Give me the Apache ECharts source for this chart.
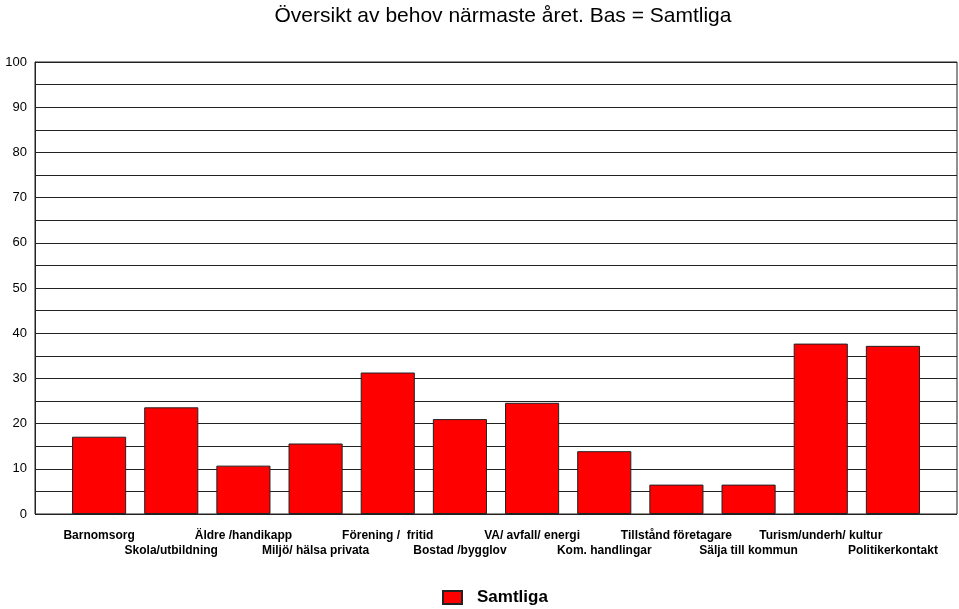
<!DOCTYPE html>
<html>
<head>
<meta charset="utf-8">
<script src="https://cdn.jsdelivr.net/npm/echarts@6/dist/echarts.min.js"></script>
<style>
  html, body { margin: 0; padding: 0; background: #fff; }
  #chart { width: 959px; height: 609px; }
</style>
</head>
<body>
<div id="chart"></div>
<script>
var categories = ['Barnomsorg', 'Skola/utbildning', 'Äldre /handikapp', 'Miljö/ hälsa privata',
  'Förening /  fritid', 'Bostad /bygglov', 'VA/ avfall/ energi', 'Kom. handlingar',
  'Tillstånd företagare', 'Sälja till kommun', 'Turism/underh/ kultur', 'Politikerkontakt'];
var samtliga = [17.1, 23.6, 10.7, 15.6, 31.3, 21.0, 24.6, 13.9, 6.5, 6.5, 37.7, 37.2];

var chart = echarts.init(document.getElementById('chart'));
var font = 'Liberation Sans, Arial, sans-serif';

chart.setOption({
  animation: false,
  title: {
    text: 'Översikt av behov närmaste året. Bas = Samtliga',
    left: 498,
    textAlign: 'center',
    top: 1,
    textStyle: { fontFamily: font, fontSize: 21, fontWeight: 'normal', color: '#000' }
  },
  legend: {
    data: ['Samtliga'],
    icon: 'rect',
    bottom: -2,
    left: 437,
    itemWidth: 19,
    itemHeight: 13,
    itemGap: 10,
    textStyle: { fontFamily: font, fontSize: 17, fontWeight: 'bold', color: '#000', padding: [0, 0, 0, 10] }
  },
  grid: [
    { left: 35, right: 2, top: 62, bottom: 95, show: true, borderColor: '#222', borderWidth: 1 },
    { left: 63, width: 866, top: 62, bottom: 95 }
  ],
  xAxis: [
    { type: 'category', gridIndex: 0, data: [''], show: false },
    {
      type: 'category', gridIndex: 1, data: categories,
      axisLine: { show: false }, axisTick: { show: false },
      axisLabel: {
        interval: 0, margin: 14, hideOverlap: false,
        fontFamily: font, fontSize: 12, fontWeight: 'bold', color: '#000', lineHeight: 15,
        formatter: function (v, i) { return i % 2 ? '\n' + v : v; }
      }
    }
  ],
  yAxis: [
    {
      type: 'value', gridIndex: 0, min: 0, max: 100, interval: 5,
      axisLine: { show: true, lineStyle: { color: '#222' } },
      axisTick: { show: false },
      axisLabel: {
        fontFamily: font, fontSize: 13, color: '#000', margin: 8,
        formatter: function (v) { return v % 10 === 0 ? v : ''; }
      },
      splitLine: { lineStyle: { color: '#222', width: 1 } }
    },
    { type: 'value', gridIndex: 1, min: 0, max: 100, show: false }
  ],
  series: [{
    name: 'Samtliga',
    type: 'bar',
    xAxisIndex: 1,
    yAxisIndex: 1,
    data: samtliga,
    barCategoryGap: '25%',
    itemStyle: { color: '#ff0000', borderColor: '#222', borderWidth: 1 }
  }]
});
</script>
</body>
</html>
